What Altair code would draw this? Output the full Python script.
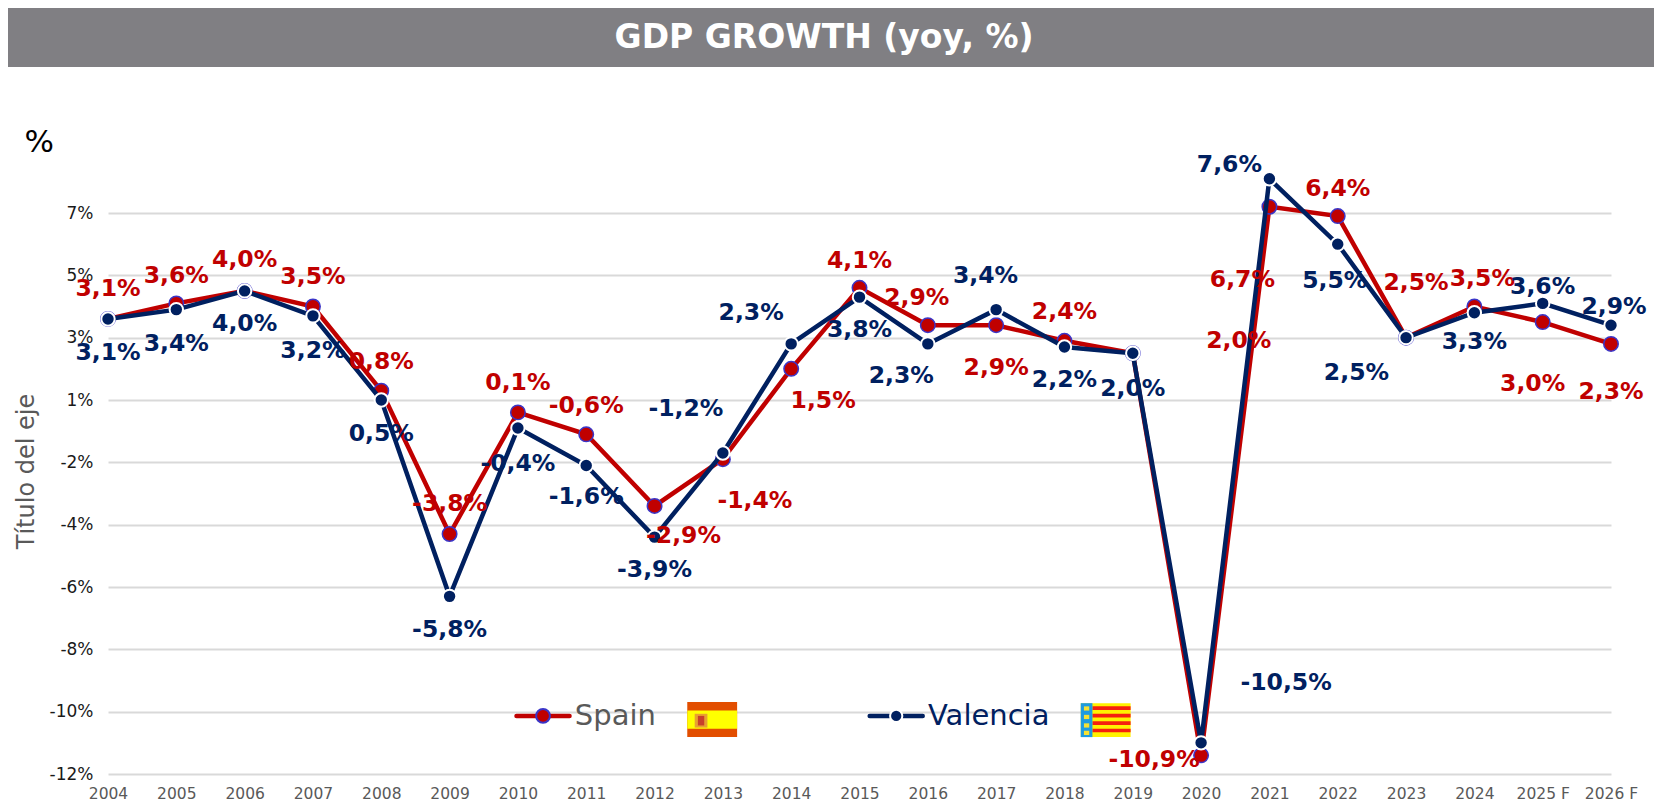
import altair as alt
import pandas as pd

years = ["2004","2005","2006","2007","2008","2009","2010","2011","2012","2013","2014","2015",
         "2016","2017","2018","2019","2020","2021","2022","2023","2024","2025 F","2026 F"]
spain = [3.1,3.6,4.0,3.5,0.8,-3.8,0.1,-0.6,-2.9,-1.4,1.5,4.1,2.9,2.9,2.4,2.0,-10.9,6.7,6.4,2.5,3.5,3.0,2.3]
valencia = [3.1,3.4,4.0,3.2,0.5,-5.8,-0.4,-1.6,-3.9,-1.2,2.3,3.8,2.3,3.4,2.2,2.0,-10.5,7.6,5.5,2.5,3.3,3.6,2.9]
y_ticks = [-11.5,-9.5,-7.5,-5.5,-3.5,-1.5,0.5,2.5,4.5,6.5]

spain_dx = [0,0,0,0,0,0,0,0,29,32,32,0,-11,0,0,106,-47,-27,0,10,8,-10,0]
spain_dy = [-30,-27,-30.5,-30,-28.6,-30,-29,-28,30,42,32.5,-27,-27,43,-28.5,-12,5,73,-27.6,-55,-28,62.4,48]
val_dx = [0,0,0,0,0,0,0,0,0,-37,-40,0,-26.5,-10.6,0,0,85,-40,-3,-49.6,0,0,3]
val_dy = [33.7,34.6,33,34.7,34,33.7,36,32,32.5,-44,-30.5,33,32,-34,33,35.4,-60,-13.5,36.5,35,29,-16,-18]

RED, NAVY = "#C00000", "#002060"
FONT = "DejaVu Sans"
WIDTH, HEIGHT = 1503, 561
LEFT, TOP = 100, 205


def fx(s):
    return s * 1.0606 - 108


def fy(s):
    return s * 1.0606 - 213


one = pd.DataFrame({"k": [0]})
base = alt.Chart(one)

x_enc = alt.X("year:N", sort=years, title=None,
              scale=alt.Scale(type="point", padding=0, domain=years),
              axis=alt.Axis(labelAngle=0, labelFontSize=15.5, labelColor="#595959", labelFont=FONT,
                            ticks=False, domain=False, grid=False, labelPadding=12))
y_enc = alt.Y("v:Q", title="Título del eje",
              scale=alt.Scale(domain=[-11.5, 6.5], nice=False, zero=False),
              axis=alt.Axis(values=y_ticks, grid=True, gridColor="#D9D9D9", gridWidth=2,
                            ticks=False, domain=False, labelFontSize=17, labelColor="#1a1a1a",
                            labelFont=FONT, labelPadding=15,
                            labelExpr="(datum.value<0?'-':'')+format(abs(datum.value),'.0f')+'%'",
                            titleFont=FONT, titleFontSize=24, titleFontWeight="normal",
                            titleColor="#595959", titleX=-70, titleY=258))


def frame(vals):
    return pd.DataFrame({"year": years, "v": vals,
                         "t": [f"{v:.1f}".replace(".", ",") + "%" for v in vals]})


sp, va = frame(spain), frame(valencia)
layers = []
layers.append(alt.Chart(sp).mark_line(color=RED, strokeWidth=4.5).encode(x=x_enc, y=y_enc))
layers.append(alt.Chart(sp).mark_point(filled=True, fill=RED, stroke="#3A35C8", strokeWidth=1.5, size=210, opacity=1)
              .encode(x=x_enc, y=y_enc))
layers.append(alt.Chart(va).mark_line(color=NAVY, strokeWidth=4.5).encode(x=x_enc, y=y_enc))
layers.append(alt.Chart(va).mark_point(filled=True, fill=NAVY, stroke="white", strokeWidth=2, size=180, opacity=1)
              .encode(x=x_enc, y=y_enc))

for frame_, color, dxs, dys in [(sp, RED, spain_dx, spain_dy), (va, NAVY, val_dx, val_dy)]:
    for i in range(len(years)):
        layers.append(alt.Chart(frame_.iloc[[i]]).mark_text(
            font=FONT, fontSize=23.5, fontWeight="bold", color=color, dx=dxs[i], dy=dys[i], baseline="middle", align="center"
        ).encode(x=x_enc, y=y_enc, text="t:N"))


def rect(x, x2, y, y2, color):
    return base.mark_rect(color=color).encode(x=alt.value(fx(x)), x2=alt.value(fx(x2)),
                                              y=alt.value(fy(y)), y2=alt.value(fy(y2)))


def txt(s, x, y, size, color, align="left", weight="normal"):
    return base.mark_text(text=s, font=FONT, fontSize=size, color=color, align=align,
                          baseline="middle", fontWeight=weight).encode(x=alt.value(fx(x)), y=alt.value(fy(y)))


# header band
layers.append(base.mark_rect(color="#807F83").encode(x=alt.value(-LEFT), x2=alt.value(1546),
                                                     y=alt.value(-TOP), y2=alt.value(-146)))
layers.append(txt("GDP GROWTH (yoy, %)", 777, 36, 33, "white", "center", "bold"))
layers.append(txt("%", 37, 135, 31, "black", "center"))

# legend
for x1, x2, xm, col, stroke, size in [(487, 537, 512, RED, "#3A35C8", 190), (820, 870, 845, NAVY, "white", 150)]:
    layers.append(base.mark_rule(color=col, strokeWidth=4.5, strokeCap="round").encode(
        x=alt.value(fx(x1)), x2=alt.value(fx(x2)), y=alt.value(fy(675))))
    layers.append(base.mark_point(filled=True, fill=col, stroke=stroke, strokeWidth=2, size=size, opacity=1).encode(
        x=alt.value(fx(xm)), y=alt.value(fy(675))))
layers.append(txt("Spain", 542, 675, 29, "#595959"))
layers.append(txt("Valencia", 875, 675, 29, NAVY))

# Spanish flag
layers.append(rect(648, 695, 662, 695, "#E24E00"))
layers.append(rect(648, 695, 670, 687, "#FFFF00"))
layers.append(rect(655, 667, 673, 686, "#E8A030"))
layers.append(rect(658, 664, 675, 684, "#C8402A"))

# Valencian flag
layers.append(rect(1019, 1066, 663, 695, "#FFF200"))
for top in [666, 673, 680, 687]:
    layers.append(rect(1030, 1066, top, top + 3.5, "#F5200F"))
layers.append(rect(1019, 1030, 663, 695, "#1E9BE0"))
for top in [666, 674, 682, 689]:
    layers.append(rect(1022, 1027, top, top + 4, "#F6E233"))

chart = alt.layer(*layers).properties(
    width=WIDTH, height=HEIGHT,
    padding={"left": LEFT, "top": TOP, "right": 44, "bottom": 30},
    autosize=alt.AutoSizeParams(type="none"),
    background="white",
).configure_view(stroke=None)

chart.save("out.html", embed_options={"renderer": "svg", "actions": False})
